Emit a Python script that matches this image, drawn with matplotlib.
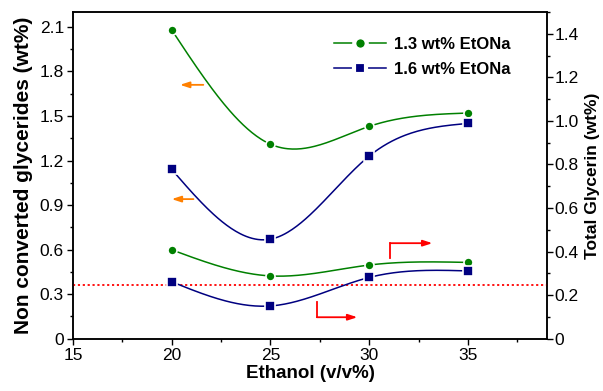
import matplotlib
matplotlib.use('Agg')
import matplotlib.pyplot as plt
from matplotlib.ticker import MultipleLocator
import numpy as np

plt.rcParams['font.family'] = ['Liberation Sans', 'DejaVu Sans']

# ── Daten ─────────────────────────────────────────────────────────────────────
ethanol = [20, 25, 30, 35]
glyc_13 = [2.08, 1.31, 1.43, 1.52]   # Non converted glycerides, 1.3 wt% EtONa
glyc_16 = [1.14, 0.67, 1.23, 1.45]   # Non converted glycerides, 1.6 wt% EtONa
totg_13 = [0.408, 0.288, 0.338, 0.350]  # Total glycerin, 1.3 wt% EtONa
totg_16 = [0.261, 0.150, 0.281, 0.311]  # Total glycerin, 1.6 wt% EtONa
limit_totg = 0.244
labels = ['1.3 wt% EtONa', '1.6 wt% EtONa']

GREEN = '#008000'
NAVY = '#000080'
ORANGE = '#FF8000'
RED = '#FF0000'


def spline(x, y, n=200):
    """Natuerlicher kubischer Spline durch die Messpunkte (nur zur Darstellung)."""
    x = np.asarray(x, float)
    y = np.asarray(y, float)
    m = len(x)
    h = np.diff(x)
    A = np.zeros((m, m))
    b = np.zeros(m)
    A[0, 0] = A[-1, -1] = 1
    for i in range(1, m - 1):
        A[i, i - 1] = h[i - 1]
        A[i, i] = 2 * (h[i - 1] + h[i])
        A[i, i + 1] = h[i]
        b[i] = 6 * ((y[i + 1] - y[i]) / h[i] - (y[i] - y[i - 1]) / h[i - 1])
    M = np.linalg.solve(A, b)
    xs = np.linspace(x[0], x[-1], n)
    k = np.clip(np.searchsorted(x, xs) - 1, 0, m - 2)
    t = xs - x[k]
    hk = h[k]
    a = (M[k + 1] - M[k]) / (6 * hk)
    bb = M[k] / 2
    c = (y[k + 1] - y[k]) / hk - hk * (2 * M[k] + M[k + 1]) / 6
    return xs, y[k] + c * t + bb * t ** 2 + a * t ** 3


fig = plt.figure(figsize=(6.03, 3.91), dpi=100)
ax = fig.add_axes([0.121, 0.134, 0.786, 0.835])
ax2 = ax.twinx()

mk = dict(markersize=6.5, markeredgecolor='white', markeredgewidth=1.2, zorder=4)
for yv, col, m, ax_ in [(glyc_13, GREEN, 'o', ax), (glyc_16, NAVY, 's', ax),
                        (totg_13, GREEN, 'o', ax2), (totg_16, NAVY, 's', ax2)]:
    xs, ys = spline(ethanol, yv)
    ax_.plot(xs, ys, color=col, lw=1.1, zorder=3)
    ax_.plot(ethanol, yv, m, color=col, **mk)

ax2.axhline(limit_totg, color=RED, ls=(0, (1.2, 1.5)), lw=1.3, zorder=2)

# Legende (weisser Rand um Marker -> Luecke in der Linie wie im Original)
handles = [plt.Line2D([], [], color=GREEN, marker='o', lw=1.1, markersize=9,
                      markeredgecolor='white', markeredgewidth=3),
           plt.Line2D([], [], color=NAVY, marker='s', lw=1.1, markersize=8.5,
                      markeredgecolor='white', markeredgewidth=3)]
leg = ax2.legend(handles, labels, loc='upper left', bbox_to_anchor=(0.534, 0.95),
                 frameon=False, borderpad=0, handlelength=3.1, handletextpad=0.45,
                 labelspacing=0.62, prop={'weight': 'bold', 'size': 12})

# Pfeile (orange -> linke Achse, rot -> rechte Achse)
arr = dict(arrowstyle='-|>,head_length=0.55,head_width=0.18', lw=1.3,
           shrinkA=0, shrinkB=0)
ax.annotate('', xy=(20.42, 1.71), xytext=(21.6, 1.71),
            arrowprops=dict(color=ORANGE, **arr))
ax.annotate('', xy=(20.0, 0.94), xytext=(21.1, 0.94),
            arrowprops=dict(color=ORANGE, **arr))
ax.plot([31.07, 31.07], [0.542, 0.643], color=RED, lw=1.3)
ax.annotate('', xy=(33.2, 0.643), xytext=(31.07, 0.643),
            arrowprops=dict(color=RED, **arr))
ax.plot([27.35, 27.35], [0.249, 0.144], color=RED, lw=1.3)
ax.annotate('', xy=(29.4, 0.144), xytext=(27.35, 0.144),
            arrowprops=dict(color=RED, **arr))

# Achsen
ax.set_xlim(15, 39)
ax.set_ylim(0, 2.2)
ax2.set_ylim(0, 1.5)
ax.set_xticks([15, 20, 25, 30, 35])
ax.xaxis.set_minor_locator(MultipleLocator(2.5))
ax.set_yticks(np.arange(0, 2.11, 0.3))
ax.set_yticklabels(['0', '0.3', '0.6', '0.9', '1.2', '1.5', '1.8', '2.1'])
ax.yaxis.set_minor_locator(MultipleLocator(0.15))
ax2.set_yticks(np.arange(0, 1.41, 0.2))
ax2.set_yticklabels(['0', '0.2', '0.4', '0.6', '0.8', '1.0', '1.2', '1.4'])
ax2.yaxis.set_minor_locator(MultipleLocator(0.1))

for a in (ax, ax2):
    for s in a.spines.values():
        s.set_linewidth(1.1)
    a.tick_params(which='major', length=4.5, width=1.0, labelsize=12.5, pad=2)
    a.tick_params(which='minor', length=2.5, width=1.0)
ax.tick_params(axis='x', top=False, which='both')
ax2.tick_params(axis='y', pad=1)

ax.set_xlabel('Ethanol (v/v%)', fontsize=13.5, fontweight='bold', labelpad=2)
ax.set_ylabel('Non converted glycerides (wt%)', fontsize=15, fontweight='bold', labelpad=5)
ax2.set_ylabel('Total Glycerin (wt%)', fontsize=12.5, fontweight='bold')
ax2.yaxis.set_label_coords(1.097, 0.5)
ax2.yaxis.label.set_va('center')

fig.savefig('out.png', dpi=100, facecolor='white')
